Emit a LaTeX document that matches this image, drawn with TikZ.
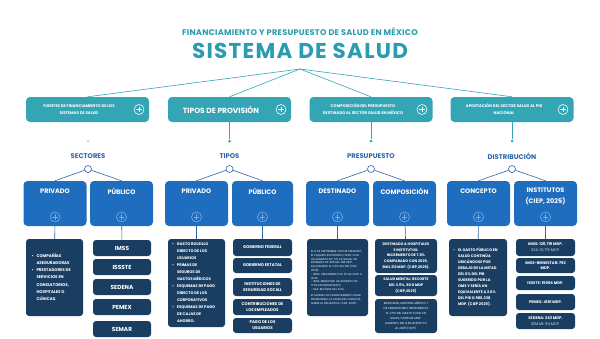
\documentclass[tikz,border=0pt]{standalone}
\usepackage{fontspec}
\setmainfont{Poppins}
\usepackage{array}
\usepackage{tikz}
\usetikzlibrary{positioning}
\definecolor{tealfill}{HTML}{33A5B5}
\definecolor{titleteal}{HTML}{2A9CAF}
\definecolor{catblue}{HTML}{2D64A7}
\definecolor{boxblue}{HTML}{1F6DBE}
\definecolor{iconblue}{HTML}{79AEE2}
\definecolor{navy}{HTML}{193E62}
\definecolor{linkblue}{HTML}{2B65A0}
\hyphenpenalty=10000
\exhyphenpenalty=10000
% bullet list as a two column table: bullet, then text with explicit breaks
\newenvironment{bullets}[1]{\begin{tabular}{@{}>{\raggedright\arraybackslash}p{5pt}@{}>{\raggedright\arraybackslash}p{#1}@{}}}{\end{tabular}}

\begin{document}
\begin{tikzpicture}[x=1pt, y=-1pt,
    heading/.style={text=titleteal, font=\bfseries\fontsize{21.5}{22}\selectfont\addfontfeature{LetterSpace=6}, inner sep=0pt},
    subtitle/.style={text=titleteal, font=\bfseries\fontsize{8.2}{9}\selectfont\addfontfeature{LetterSpace=3}, inner sep=0pt},
    tealbox/.style={rectangle, rounded corners=4pt, fill=tealfill, minimum width=123pt, minimum height=25pt, inner sep=0pt},
    tealtext/.style={text=white, font=\bfseries\fontsize{3.9}{7.2}\selectfont, align=center, inner sep=0pt},
    plusicon/.style={circle, draw=#1, line width=0.6pt, minimum size=10pt, inner sep=0pt,
        path picture={\draw[#1, line width=0.6pt]
            ([xshift=-2.6pt]path picture bounding box.center) -- ([xshift=2.6pt]path picture bounding box.center)
            ([yshift=-2.6pt]path picture bounding box.center) -- ([yshift=2.6pt]path picture bounding box.center);}},
    joint/.style={circle, fill=tealfill, inner sep=0pt, minimum size=3pt},
    trunk/.style={draw=tealfill, line width=0.6pt},
    catlabel/.style={text=catblue, font=\bfseries\fontsize{6.8}{8}\selectfont, inner sep=0pt},
    hub/.style={circle, draw=catblue, line width=0.6pt, inner sep=0pt, minimum size=7pt},
    branch/.style={draw=catblue, line width=0.6pt},
    bluebox/.style={rectangle, rounded corners=4pt, fill=boxblue, minimum width=63pt, minimum height=45pt, inner sep=0pt},
    bluetext/.style={text=white, font=\bfseries\fontsize{6.5}{11}\selectfont, align=center, inner sep=0pt},
    link/.style={draw=linkblue, line width=0.6pt},
    navybox/.style={rectangle, rounded corners=3pt, fill=navy, text=white, inner sep=0pt, align=center},
    wh/.style 2 args={minimum width=#1, minimum height=#2},
    tagtext/.style 2 args={font=\bfseries\fontsize{#1}{#2}\selectfont}
]
\useasboundingbox (0,0) rectangle (600,338);

% --- heading ---
\node[subtitle] (subt) at (300,32) {FINANCIAMIENTO Y PRESUPUESTO DE SALUD EN MÉXICO};
\node[heading] (title) at (300,51) {SISTEMA DE SALUD};
\coordinate (root) at (300,69);

% --- first level ---
\node[tealbox] (fuentes) at (87.5,109.5) {};
\node[tealtext] (fuentesT) at (79,109.5) {FUENTES DE FINANCIAMIENTO DE LOS\\SISTEMAS DE SALUD};
\node[plusicon=white] (fuentesP) at (139,109.5) {};

\node[tealbox] (tipos) at (229.5,109.5) {};
\node[tealtext, font=\bfseries\fontsize{7.5}{9}\selectfont] (tiposT) at (221,109.5) {TIPOS DE PROVISIÓN};
\node[plusicon=white] (tiposP) at (281,109.5) {};

\node[tealbox] (compos) at (371,109.5) {};
\node[tealtext] (composT) at (363,109.5) {COMPOSICIÓN DEL PRESUPUESTO\\DESTINADO AL SECTOR SALUD EN MÉXICO};
\node[plusicon=white] (composP) at (422,109.5) {};

\node[tealbox] (aport) at (512,109.5) {};
\node[tealtext] (aportT) at (504,109.5) {APORTACIÓN DEL SECTOR SALUD AL PIB\\NACIONAL};
\node[plusicon=white] (aportP) at (563,109.5) {};

\draw[trunk] (root) -- (fuentes.north);
\draw[trunk] (root) -- (tipos.north);
\draw[trunk] (root) -- (compos.north);
\draw[trunk] (root) -- (aport.north);

% --- joints ---
\node[joint, minimum size=1.5pt] (fuentesJ) at (88,141) {};
\node[joint] (tiposJ) at (229.5,141) {};
\node[joint] (composJ) at (371,141) {};
\node[joint] (aportJ) at (512,141) {};
\draw[trunk] (tipos.south) -- (tiposJ);
\draw[trunk] (compos.south) -- (composJ);
\draw[trunk] (aport.south) -- (aportJ);

% --- categories ---
\node[catlabel] (sect) at (88,156) {SECTORES};
\node[catlabel] (tip) at (229.5,156) {TIPOS};
\node[catlabel] (pres) at (371,156) {PRESUPUESTO};
\node[catlabel] (dist) at (512,156) {DISTRIBUCIÓN};

\node[hub] (sectH) at (88,169) {};
\node[hub] (tipH) at (229.5,169) {};
\node[hub] (presH) at (371,169) {};
\node[hub] (distH) at (512,169) {};

% --- blue boxes ---
\node[bluebox] (privS) at (55,203.5) {};
\node[bluebox] (pubS) at (121.5,203.5) {};
\node[bluebox] (privT) at (196.5,203.5) {};
\node[bluebox, minimum width=61pt] (pubT) at (262.5,203.5) {};
\node[bluebox] (dest) at (337.5,203.5) {};
\node[bluebox] (comp) at (404.5,203.5) {};
\node[bluebox] (conc) at (478.5,203.5) {};
\node[bluebox] (inst) at (545.5,203.5) {};

\node[bluetext] (privST) at (55,191) {PRIVADO};
\node[bluetext] (pubST) at (121.5,191) {PÚBLICO};
\node[bluetext] (privTT) at (196.5,191) {PRIVADO};
\node[bluetext] (pubTT) at (262.5,191) {PÚBLICO};
\node[bluetext] (destT) at (337.5,191) {DESTINADO};
\node[bluetext] (compT) at (404.5,191) {COMPOSICIÓN};
\node[bluetext] (concT) at (478.5,191) {CONCEPTO};
\node[bluetext] (instT) at (545.5,196.5) {INSTITUTOS\\(CIEP, 2025)};

\foreach \b in {privS,pubS,privT,pubT,dest,comp,conc,inst}
    \node[plusicon=iconblue] (\b P) at ([yshift=-13.5pt]\b.center) {};

\foreach \h/\l/\r in {sectH/privS/pubS, tipH/privT/pubT, presH/dest/comp, distH/conc/inst} {
    \draw[branch] (\h) -- (\l.north);
    \draw[branch] (\h) -- (\r.north);
}

% --- sectores ---
\node[navybox, wh={57pt}{77pt}, tagtext={4}{7.2}] (privSL) at (54.5,277.5)
    {\begin{bullets}{41pt}
     \textbullet & COMPAÑÍAS\newline ASEGURADORAS\\
     \textbullet & PRESTADORES DE\newline SERVICIOS EN\newline CONSULTORIOS,\newline HOSPITALES O\newline CLÍNICAS.
     \end{bullets}};
\node[navybox, wh={58pt}{16pt}, tagtext={5.8}{7}] (imss) at (122,248) {IMSS};
\node[navybox, wh={58pt}{16pt}, tagtext={5.8}{7}] (issste) at (122,267) {ISSSTE};
\node[navybox, wh={58pt}{16pt}, tagtext={5.8}{7}] (sedena) at (122,287) {SEDENA};
\node[navybox, wh={58pt}{16pt}, tagtext={5.8}{7}] (pemex) at (122,307) {PEMEX};
\node[navybox, wh={58pt}{16pt}, tagtext={5.8}{7}] (semar) at (122,329) {SEMAR};
\draw[link] (privS) -- (privSL);
\draw[link] (pubS) -- (imss);

% --- tipos ---
\node[navybox, wh={57pt}{88pt}, tagtext={3.8}{7}] (privTL) at (196.5,283)
    {\begin{bullets}{44pt}
     \textbullet & GASTO BOLSILLO\newline DIRECTO DE LOS\newline USUARIOS\\
     \textbullet & PRIMAS DE\newline SEGUROS DE\newline GASTOS MÉDICOS\\
     \textbullet & ESQUEMAS DE PAGO\newline DIRECTO DE LOS\newline CORPORATIVOS\\
     \textbullet & ESQUEMAS DE PAGO\newline DE CAJAS DE\newline AHORRO.
     \end{bullets}};
\node[navybox, wh={59pt}{17pt}, tagtext={4}{6}] (gfed) at (262.5,247.5) {GOBIERNO FEDERAL};
\node[navybox, wh={59pt}{15pt}, tagtext={4}{6}] (gest) at (262.5,265.5) {GOBIERNO ESTATAL};
\node[navybox, wh={59pt}{18pt}, tagtext={4}{6}] (isoc) at (262.5,287) {INSTITUCIONES DE\\SEGURIDAD SOCIAL};
\node[navybox, wh={59pt}{16pt}, tagtext={4}{6}] (cemp) at (262.5,307) {CONTRIBUCIONES DE\\LOS EMPLEADOS};
\node[navybox, wh={59pt}{15pt}, tagtext={4}{6}] (pusu) at (262.5,325.5) {PAGO DE LOS\\USUARIOS};
\draw[link] (privT) -- (privTL);
\draw[link] (pubT) -- (gfed);

% --- presupuesto ---
\node[navybox, wh={61pt}{77pt}, text width=53pt, align=left, font=\fontsize{2.7}{3.8}\selectfont] (destL) at (337.5,277.5)
    {EL 8 DE SEPTIEMBRE 2025 SE PRESENTÓ EL PAQUETE ECONÓMICO 2026, CON UN AUMENTO DE 7.1\% EN SALUD, UN ESTIMADO DE 965 MIL 398 MDP, EQUIVALENTE AL 2.6\% DEL PIB (CIEP, 2025).\par
     - IMSS: CRECIMIENTO DE 5\% DE 2025 A 2026.\par
     - IMSS-BIENESTAR: UN AUMENTO DE 17.5\% EN PRESUPUESTO.\par
     - SSA: RECORTE DEL 6.4\%.\par\vspace{2.5pt}
     EL MODELO DE FINANCIAMIENTO SIGUE PRIORIZANDO LA ATENCIÓN CURATIVA SOBRE LA PREVENTIVA (CIEP, 2025).};
\node[navybox, wh={62pt}{34pt}, tagtext={3.6}{5.7}] (hosp) at (406,256)
    {DESTINADO A HOSPITALES\\E INSTITUTOS:\\INCREMENTO DE 7.8\%\\COMPARADO CON 2025,\\2MIL 212 MDP. (CIEP,2026).};
\node[navybox, wh={62pt}{21pt}, tagtext={3.6}{5.7}] (ment) at (406,285.5)
    {SALUD MENTAL: RECORTE\\DEL 3.5\%, 80.8 MDP\\(CIEP,2025)};
\node[navybox, wh={62pt}{34pt}, font=\fontsize{2.9}{5}\selectfont] (medi) at (406,316)
    {MEDICINAS, MATERIAL MÉDICO Y\\DE LABORATORIO: DEPENDENCIA\\EL 11.5\% DEL GASTO TOTAL EN\\SALUD, 11,986 MIL MDP.\\AUMENTO DEL 9.8\% RESPECTO\\AL 2025 (CIEP).};
\draw[link] (dest) -- (destL);
\draw[link] (comp) -- (hosp);

% --- distribucion ---
\node[navybox, wh={58pt}{77pt}, tagtext={3.7}{6}] (concL) at (478,277.5)
    {\begin{bullets}{45pt}
     \textbullet & EL GASTO PÚBLICO EN\newline SALUD CONTINÚA\newline UBICÁNDOSE POR\newline DEBAJO DE LA MITAD\newline DEL 6\% DEL PIB\newline SUGERIDO POR LA\newline OMS Y SERÍA UN\newline EQUIVALENTE A 2.6\%\newline DEL PIB O 986,338\newline MDP. (CIEP 2025).\\[10pt]
     \end{bullets}};
\node[navybox, wh={59pt}{17pt}, tagtext={3.8}{5.5}] (imssD) at (545.5,247.5)
    {IMSS: 120,719 MDP.\\{\mdseries\color{white!80!navy}SSA: 10,715 MDP.}};
\node[navybox, wh={59pt}{15pt}, tagtext={3.8}{5.5}] (bien) at (545.5,265.5) {IMSS-BIENESTAR: 792\\MDP.};
\node[navybox, wh={59pt}{14pt}, tagtext={3.8}{5.5}] (isssteD) at (545.5,283) {ISSSTE: 15094 MDP.};
\node[navybox, wh={59pt}{16pt}, tagtext={3.8}{5.5}] (pemexD) at (545.5,302) {PEMEX: 4181 MDP.};
\node[navybox, wh={59pt}{16pt}, tagtext={3.8}{5.5}] (sedenaD) at (545.5,321)
    {SEDENA: 243 MDP.\\{\mdseries\color{white!80!navy}SEMAR: 94 MDP.}};
\draw[link] (conc) -- (concL);
\draw[link] (inst) -- (imssD);

\end{tikzpicture}
\end{document}
